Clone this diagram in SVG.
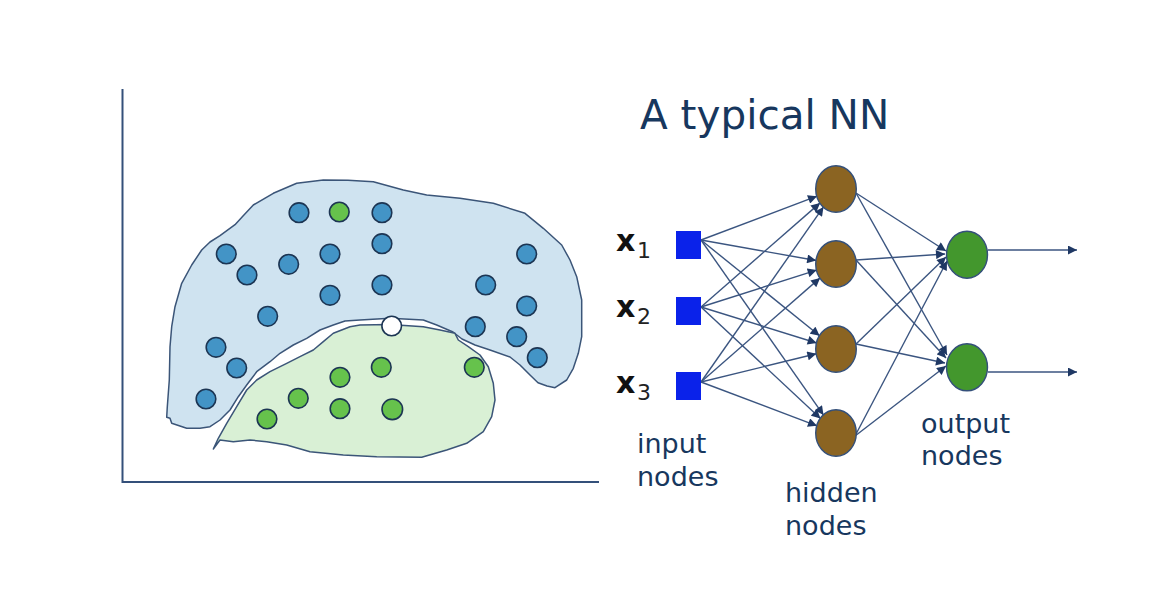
<svg xmlns="http://www.w3.org/2000/svg" width="1170" height="614" viewBox="0 0 1170 614">
<style>
.lbl{font-family:"DejaVu Sans","Verdana",sans-serif;fill:#17375e;font-size:27px}
.xl{font-family:"DejaVu Sans",sans-serif;fill:#111;font-weight:bold;font-size:30px}
.sub{font-family:"DejaVu Sans",sans-serif;fill:#222;font-size:22px}
.bd{fill:#4394c6;stroke:#1c3553;stroke-width:1.6}
.gd{fill:#66c24c;stroke:#1c3553;stroke-width:1.6}
.wd{fill:#ffffff;stroke:#1c3553;stroke-width:1.6}
.hid{fill:#8b6422;stroke:#34507a;stroke-width:1.4}
.out{fill:#43972d;stroke:#34507a;stroke-width:1.4}
.inp{fill:#0a22ea}
.edge{stroke:#3b5580;stroke-width:1.4;fill:none;marker-end:url(#ah)}
.axis{stroke:#34507a;stroke-width:2;fill:none}
</style>
<defs>
<marker id="ah" viewBox="0 0 10 10" refX="10" refY="5" markerWidth="10" markerHeight="9" markerUnits="userSpaceOnUse" orient="auto">
<path d="M0,0 L10,5 L0,10 z" fill="#1f3864"/>
</marker>
</defs>
<rect width="1170" height="614" fill="#ffffff"/>

<g id="plot">
<path class="axis" d="M122.5,89 L122.5,482 L599,482"/>
<path id="blue-region" fill="#cfe3f0" stroke="#3b5578" stroke-width="1.5" stroke-linejoin="round" d="M166.7,417.3 L170,418.3 L171.7,423.3 L186.7,428.3 L200,428.3 L210,426.7 L220,420 L230,410 L238.3,396.7 L246.7,385 L256.7,371.7 L270,361.7 L280,353.3 L293.3,345 L306.7,338.3 L320,330 L333.3,325 L345,321 L360,320 L390,318.3 L423.3,320 L436.7,325 L453,332 L462,339 L475,345 L490,350 L510,357 L520,365 L530,375 L538,382.7 L547,386 L555,387.7 L566.7,380 L573.3,368.3 L578.3,353.3 L581.7,336.7 L581.7,300 L576.7,276.7 L570,260 L561.7,245 L543.3,228.3 L525,213.3 L493.3,203.3 L460,198.3 L426.7,195 L403.3,190 L373.3,181.7 L348,180.3 L323.3,180 L296.7,183.3 L273.3,193.3 L253.3,205 L243,216 L235,224.7 L220,235.7 L210,242 L201.7,250 L191.7,265 L181.7,283.3 L175,306.7 L171.7,326.7 L170,346.7 L169.3,380 L167.3,406.7 Z"/>
<path id="green-region" fill="#d9f0d5" stroke="#3b5578" stroke-width="1.5" stroke-linejoin="round" d="M220,440 L213.3,449 L218.3,438.3 L226.7,423.3 L236.7,406.7 L246.7,390 L256.7,380 L270,371.7 L286.7,363.3 L300,356.7 L313.3,350 L323.3,341.7 L333.3,333.3 L350,326.7 L360,325 L390,324.5 L423.3,326.7 L440,330 L455,333.3 L458.3,340 L468.3,346.7 L480,355 L488.3,366.7 L493.3,383.3 L495,400 L491.7,416.7 L483.3,431.7 L466.7,443.3 L446.7,450 L421.7,457.3 L376.7,456.7 L343.3,455 L310,451.7 L286.7,445 L266.7,441.7 L250,440 L233.3,441.7 Z"/>
<g id="dots">
<circle class="bd" cx="299" cy="212.7" r="9.8"/>
<circle class="gd" cx="339.3" cy="212" r="9.8"/>
<circle class="bd" cx="382" cy="212.7" r="9.8"/>
<circle class="bd" cx="382" cy="243.7" r="9.8"/>
<circle class="bd" cx="226.3" cy="254" r="9.8"/>
<circle class="bd" cx="247" cy="275" r="9.8"/>
<circle class="bd" cx="288.7" cy="264.3" r="9.8"/>
<circle class="bd" cx="330" cy="254" r="9.8"/>
<circle class="bd" cx="330" cy="295.3" r="9.8"/>
<circle class="bd" cx="382" cy="285" r="9.8"/>
<circle class="bd" cx="267.7" cy="316.3" r="9.8"/>
<circle class="bd" cx="216" cy="347.3" r="9.8"/>
<circle class="bd" cx="236.7" cy="368" r="9.8"/>
<circle class="bd" cx="206" cy="399" r="9.8"/>
<circle class="bd" cx="526.7" cy="254" r="9.8"/>
<circle class="bd" cx="485.7" cy="285" r="9.8"/>
<circle class="bd" cx="526.7" cy="306" r="9.8"/>
<circle class="bd" cx="475.3" cy="326.7" r="9.8"/>
<circle class="bd" cx="516.7" cy="336.7" r="9.8"/>
<circle class="bd" cx="537.3" cy="357.7" r="9.8"/>
<circle class="gd" cx="381.3" cy="367.3" r="9.8"/>
<circle class="gd" cx="340" cy="377.3" r="9.8"/>
<circle class="gd" cx="474.3" cy="367.3" r="9.8"/>
<circle class="gd" cx="298.3" cy="398.3" r="9.8"/>
<circle class="gd" cx="340" cy="408.7" r="9.8"/>
<circle class="gd" cx="392.3" cy="409.3" r="10.3"/>
<circle class="gd" cx="267" cy="419" r="9.8"/>
<circle class="wd" cx="391.7" cy="326" r="9.8"/>
</g>
</g>

<text id="title" x="640" y="129" font-family="DejaVu Sans, Verdana, sans-serif" font-size="40.5" fill="#17375e">A typical NN</text>

<g id="connectors">
<line class="edge" x1="701" y1="240" x2="817" y2="196.2"/>
<line class="edge" x1="701" y1="240" x2="816.2" y2="260.5"/>
<line class="edge" x1="701" y1="240" x2="819.6" y2="335.8"/>
<line class="edge" x1="701" y1="240" x2="823.5" y2="415.1"/>
<line class="edge" x1="701" y1="307" x2="820.1" y2="202.9"/>
<line class="edge" x1="701" y1="307" x2="816.7" y2="270.1"/>
<line class="edge" x1="701" y1="307" x2="816.7" y2="343"/>
<line class="edge" x1="701" y1="307" x2="820.5" y2="418.5"/>
<line class="edge" x1="701" y1="382" x2="823.5" y2="206.9"/>
<line class="edge" x1="701" y1="382" x2="820.1" y2="277.9"/>
<line class="edge" x1="701" y1="382" x2="816.4" y2="353.8"/>
<line class="edge" x1="701" y1="382" x2="817" y2="425.8"/>
<line class="edge" x1="856" y1="193" x2="946" y2="251"/>
<line class="edge" x1="856" y1="260" x2="945" y2="254"/>
<line class="edge" x1="856" y1="344" x2="946" y2="257"/>
<line class="edge" x1="855" y1="436" x2="947" y2="261"/>
<line class="edge" x1="856" y1="193" x2="947" y2="355"/>
<line class="edge" x1="856" y1="260" x2="946" y2="358"/>
<line class="edge" x1="856" y1="344" x2="945" y2="363"/>
<line class="edge" x1="855" y1="436" x2="946" y2="366"/>
<line class="edge" x1="988" y1="250" x2="1077" y2="250"/>
<line class="edge" x1="988" y1="372" x2="1077" y2="372"/>
</g>

<g id="input-1"><rect class="inp" x="676" y="231" width="25" height="28"/><text class="xl" x="616" y="251">x</text><text class="sub" x="637" y="258">1</text></g>
<g id="input-2"><rect class="inp" x="676" y="297" width="25" height="28"/><text class="xl" x="616" y="317">x</text><text class="sub" x="637" y="324">2</text></g>
<g id="input-3"><rect class="inp" x="676" y="372" width="25" height="28"/><text class="xl" x="616" y="393">x</text><text class="sub" x="637" y="400">3</text></g>

<g id="hidden-1"><ellipse class="hid" cx="836" cy="189" rx="20.3" ry="23.3"/></g>
<g id="hidden-2"><ellipse class="hid" cx="836" cy="264" rx="20.3" ry="23.3"/></g>
<g id="hidden-3"><ellipse class="hid" cx="836" cy="349" rx="20.3" ry="23.3"/></g>
<g id="hidden-4"><ellipse class="hid" cx="836" cy="433" rx="20.3" ry="23.3"/></g>

<g id="output-1"><ellipse class="out" cx="967" cy="254.7" rx="20.5" ry="23.5"/></g>
<g id="output-2"><ellipse class="out" cx="967" cy="367.3" rx="20.5" ry="23.5"/></g>

<g id="labels">
<text class="lbl" x="637" y="453">input</text>
<text class="lbl" x="637" y="486">nodes</text>
<text class="lbl" x="785" y="502">hidden</text>
<text class="lbl" x="785" y="535">nodes</text>
<text class="lbl" x="921" y="433">output</text>
<text class="lbl" x="921" y="465">nodes</text>
</g>
</svg>
